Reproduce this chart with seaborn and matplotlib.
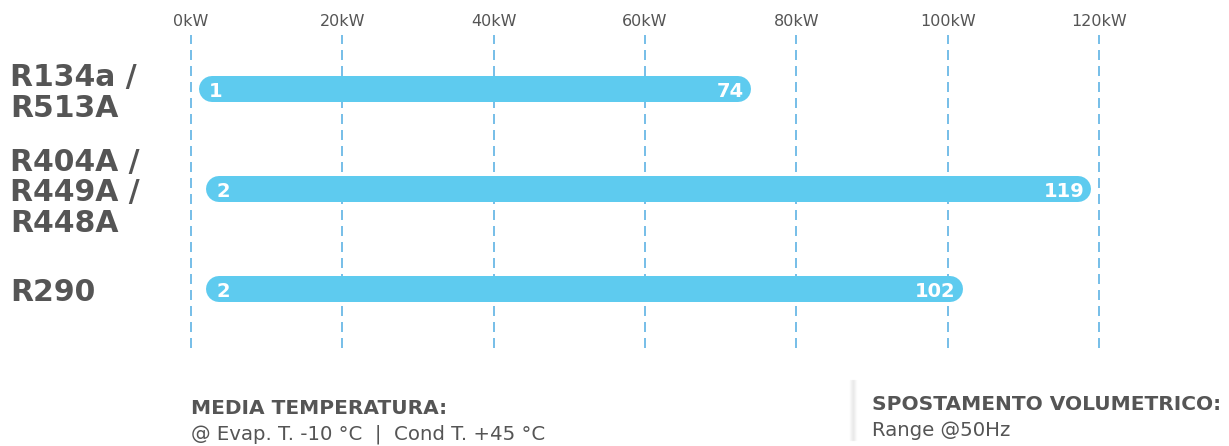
import matplotlib
matplotlib.use("Agg")
import matplotlib.pyplot as plt
from matplotlib.lines import Line2D
import seaborn as sns
import pandas as pd

# Capacity range per refrigerant group (kW)
refrigerants = ["R134a /\nR513A", "R404A /\nR449A /\nR448A", "R290"]
min_kw = [1, 2, 2]
max_kw = [74, 119, 102]

tick_values = [0, 20, 40, 60, 80, 100, 120]
tick_labels = ["0kW", "20kW", "40kW", "60kW", "80kW", "100kW", "120kW"]

left_title = "MEDIA TEMPERATURA:"
left_note = "@ Evap. T. -10 °C  |  Cond T. +45 °C"
right_title = "SPOSTAMENTO VOLUMETRICO:"
right_note = "Range @50Hz"

BAR = "#5ECBEF"
GRID = "#5FB3E4"
TEXT = "#555555"

sns.set_theme(style="white")
plt.rcParams["font.family"] = ["DejaVu Sans"]

W, H = 1229, 446
DPI = 100
fig = plt.figure(figsize=(W / DPI, H / DPI), dpi=DPI)

# axes placed in pixel terms: 0 kW at x=191, 120 kW at x=1099
x0_px, x1_px = 191, 1099
top_px, bot_px = 35, 348
ax = fig.add_axes([x0_px / W, 1 - bot_px / H, (x1_px - x0_px) / W, (bot_px - top_px) / H])

df = pd.DataFrame({"refrigerant": refrigerants,
                   "span": [b - a for a, b in zip(min_kw, max_kw)],
                   "low": min_kw})

sns.barplot(data=df, x="span", y="refrigerant", orient="h", color=BAR,
            width=0.26, errorbar=None, ax=ax, saturation=1, zorder=3)

ax.set_xlim(tick_values[0], tick_values[-1])
ax.set_ylim(2.59, -0.54)

# shift each bar to start at its minimum value
for patch, lo in zip(ax.patches, df["low"]):
    patch.set_x(lo)

# pixel scale of the data units
px_per_x = (x1_px - x0_px) / (tick_values[-1] - tick_values[0])
px_per_y = 100.0

# redraw each bar as a capsule: a thick line with round caps
bars = list(ax.patches)
for patch in bars:
    x, y, w, h = patch.get_x(), patch.get_y(), patch.get_width(), patch.get_height()
    h_px = h * px_per_y
    r_x = (h_px / 2) / px_per_x
    yc = y + h / 2
    ax.plot([x + r_x, x + w - r_x], [yc, yc], color=BAR,
            lw=h_px * 72 / DPI, solid_capstyle="round", zorder=3)
    patch.remove()

# min / max value labels inside the bars
for i, (lo, hi) in enumerate(zip(min_kw, max_kw)):
    ax.annotate(str(lo), (lo, i), xytext=(10, 0), textcoords="offset pixels",
                ha="left", va="center_baseline", color="white",
                fontsize=14, fontweight="bold", zorder=4)
    ax.annotate(str(hi), (hi, i), xytext=(-7, 0), textcoords="offset pixels",
                ha="right", va="center_baseline", color="white",
                fontsize=14, fontweight="bold", zorder=4)

# dashed vertical grid
for v in tick_values:
    ax.axvline(v, color=GRID, lw=1.2, linestyle=(0, (6, 3.6)), zorder=1,
               clip_on=False)

# top tick labels
ax.xaxis.tick_top()
ax.set_xticks(tick_values)
ax.set_xticklabels(tick_labels)
ax.tick_params(axis="x", length=0, pad=4, labelsize=11.5, labelcolor=TEXT)
ax.set_xlabel("")

# refrigerant labels on the far left
ax.set_ylabel("")
ax.tick_params(axis="y", length=0, pad=(x0_px - 10) * 0.72, labelsize=21.5,
               labelcolor=TEXT)
for lab in ax.get_yticklabels():
    lab.set_ha("left")
    lab.set_fontweight("bold")
    lab.set_linespacing(1.08)

for s in ax.spines.values():
    s.set_visible(False)
ax.set_facecolor("none")

# footer notes
fig.text(191 / W, 1 - 409 / H, left_title, ha="left", va="center",
         fontsize=14.5, fontweight="bold", color=TEXT)
fig.text(191 / W, 1 - 434 / H, left_note, ha="left", va="center",
         fontsize=14.2, color=TEXT)
fig.text(872 / W, 1 - 405 / H, right_title, ha="left", va="center",
         fontsize=14.5, fontweight="bold", color=TEXT)
fig.text(872 / W, 1 - 430 / H, right_note, ha="left", va="center",
         fontsize=14.2, color=TEXT)

# soft divider shadow between the notes
for dx, a in [(-3, 0.03), (-2, 0.06), (-1, 0.09), (0, 0.11), (1, 0.09), (2, 0.05), (3, 0.02)]:
    fig.add_artist(Line2D([(853 + dx) / W] * 2, [1 - 440 / H, 1 - 380 / H],
                          color="#777777", alpha=a, lw=1.0,
                          transform=fig.transFigure))

fig.savefig("out.png", dpi=DPI, facecolor="white")
